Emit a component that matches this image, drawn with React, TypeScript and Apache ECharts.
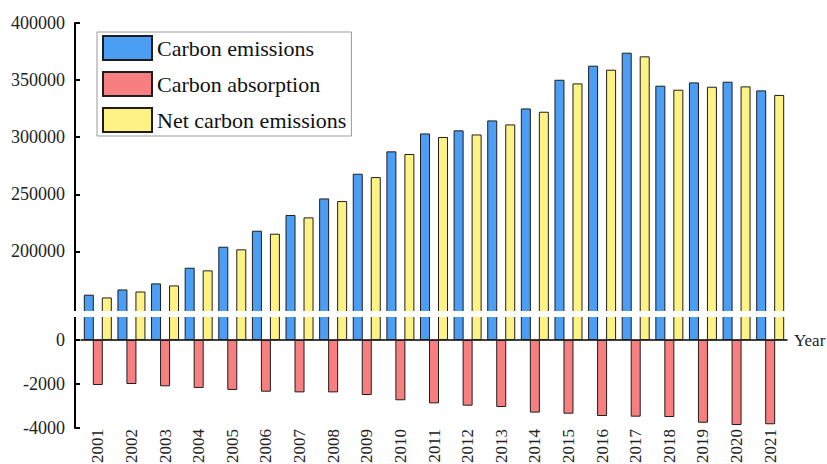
import React, { useEffect, useRef } from "react";
import * as echarts from "echarts";

const years = ["2001","2002","2003","2004","2005","2006","2007","2008","2009","2010","2011","2012","2013","2014","2015","2016","2017","2018","2019","2020","2021"];
const emissions = [162100,166700,172000,185700,204100,218100,231900,246400,268000,287600,303300,306000,314700,325200,350300,362600,374000,345100,348000,348600,341000];
const absorption = [-2045,-2000,-2105,-2180,-2270,-2350,-2380,-2380,-2500,-2740,-2880,-2985,-3045,-3300,-3350,-3455,-3485,-3500,-3760,-3865,-3830];
const netEmissions = [159700,164900,170200,183400,201800,215500,229800,244100,265100,285300,300200,302400,311200,322300,347100,359100,370800,341600,344200,344500,337000];
const upperTicks = [200000, 250000, 300000, 350000, 400000];
const lowerTicks = [-4000, -2000, 0];

const FONT = "'Liberation Serif', 'Times New Roman', serif";
const BLUE = "#4c9ef5";
const RED = "#f87f7f";
const YELLOW = "#fff285";
const BORDER = "#1e1e1e";

export default function App() {
  const ref = useRef<HTMLDivElement>(null);
  useEffect(() => {
    if (!ref.current) return;
    const chart = echarts.init(ref.current, null, { renderer: "svg" });
    const barCommon = { type: "bar", barWidth: 10, barGap: "-10%", clip: true };
    const mk = (name: string, color: string, data: number[], idx: number) => ({
      ...barCommon,
      name,
      data,
      xAxisIndex: idx === 0 ? 0 : 1,
      yAxisIndex: idx,
      itemStyle: { color, borderColor: BORDER, borderWidth: 1 },
    });
    const yCommon = {
      type: "value",
      offset: 6,
      splitLine: { show: false },
      axisLine: { show: true, onZero: false, lineStyle: { color: "#000", width: 2 } },
      axisTick: { show: true, inside: true, length: 5, lineStyle: { color: "#000", width: 2 } },
      axisLabel: {
        color: "#222",
        fontSize: 18,
        fontFamily: FONT,
        margin: 10,
        formatter: (v: number) => String(v),
      },
    };
    chart.setOption({
      animation: false,
      backgroundColor: "#fff",
      grid: [
        { left: 81, right: 40, top: 23, height: 291, outerBoundsMode: "none", containLabel: false },
        { left: 81, right: 40, top: 314, height: 114, outerBoundsMode: "none", containLabel: false },
      ],
      legend: {
        left: 97,
        top: 32,
        orient: "vertical",
        itemWidth: 49,
        itemHeight: 24,
        itemGap: 10,
        padding: [3, 5, 3, 5],
        borderColor: "#999",
        borderWidth: 1,
        icon: "rect",
        textStyle: { fontSize: 22, fontFamily: FONT, color: "#111", lineHeight: 24 },
        data: ["Carbon emissions", "Carbon absorption", "Net carbon emissions"],
      },
      xAxis: [
        {
          type: "category",
          gridIndex: 0,
          data: years,
          show: false,
        },
        {
          type: "category",
          gridIndex: 1,
          data: years,
          position: "bottom",
          axisLine: { show: false, onZero: false },
          axisTick: { show: false },
          axisLabel: { rotate: 90, fontSize: 17, fontFamily: FONT, color: "#222", margin: 1, interval: 0 },
        },
        {
          type: "category",
          gridIndex: 1,
          data: years,
          position: "top",
          axisLine: { show: true, onZero: true, lineStyle: { color: "#000", width: 1.5 } },
          axisTick: { show: false },
          axisLabel: { show: false },
          name: "Year",
          nameLocation: "end",
          nameGap: 7,
          nameTextStyle: { fontSize: 17, fontFamily: FONT, color: "#222", verticalAlign: "middle" },
        },
      ],
      yAxis: [
        {
          ...yCommon,
          gridIndex: 0,
          min: 145200,
          max: 400000,
          axisTick: { ...yCommon.axisTick, customValues: upperTicks },
          axisLabel: { ...yCommon.axisLabel, customValues: upperTicks },
        },
        {
          ...yCommon,
          gridIndex: 1,
          min: -4000,
          max: 1182,
          axisTick: { ...yCommon.axisTick, customValues: lowerTicks },
          axisLabel: { ...yCommon.axisLabel, customValues: lowerTicks },
        },
      ],
      series: [
        mk("Carbon emissions", BLUE, emissions, 0),
        mk("Carbon absorption", RED, absorption, 0),
        mk("Net carbon emissions", YELLOW, netEmissions, 0),
        mk("Carbon emissions", BLUE, emissions, 1),
        mk("Carbon absorption", RED, absorption, 1),
        mk("Net carbon emissions", YELLOW, netEmissions, 1),
      ],
      graphic: [
        {
          type: "rect",
          z: 100,
          shape: { x: 66, y: 311, width: 730, height: 6 },
          style: { fill: "#fff" },
        },
      ],
    });
    return () => chart.dispose();
  }, []);
  return (
    <div
      ref={ref}
      style={{ position: "fixed", left: 0, top: 0, width: 827, height: 464 }}
    />
  );
}
